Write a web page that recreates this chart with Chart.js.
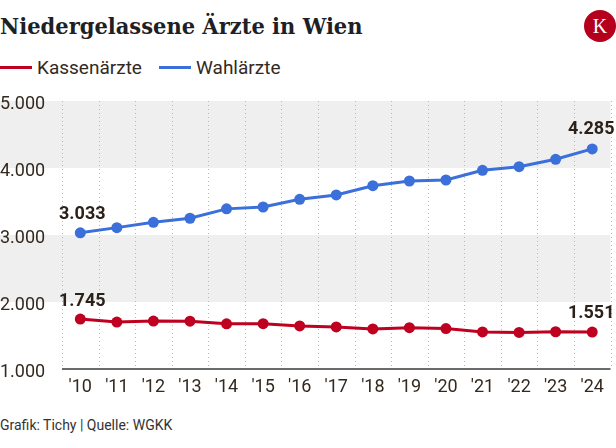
<!DOCTYPE html>
<html>
<head>
<meta charset="utf-8">
<script src="https://cdn.jsdelivr.net/npm/chart.js@4"></script>
<style>
  body { margin: 0; width: 616px; height: 448px; background: #fff; position: relative; overflow: hidden; font-family: Roboto, sans-serif; }
  #title { position: absolute; left: 0; top: 15px; font: bold 22px/22px "DejaVu Serif", serif; color: #1d2125; white-space: nowrap; transform-origin: 0 0; }
  #logo { position: absolute; left: 584px; top: 10px; width: 32px; height: 32px; border-radius: 50%; background: #b4001c; color: #fff; font: 20px/32px "Liberation Serif", serif; text-align: center; }
  .leg { position: absolute; top: 57px; height: 22px; font-size: 19px; line-height: 22px; color: #33291f; white-space: nowrap; }
  .leg i { display: inline-block; width: 32px; height: 3px; vertical-align: middle; margin-right: 5px; position: relative; top: -1px; }
  #wrap { position: absolute; left: 0; top: 85px; width: 616px; height: 320px; }
  #footer { position: absolute; left: 0; top: 417px; font-size: 14px; color: #333; white-space: nowrap; }
</style>
</head>
<body>
<div id="title">Niedergelassene Ärzte in Wien</div>
<div id="logo">K</div>
<div class="leg" style="left:0"><i style="background:#bf0020"></i>Kassenärzte</div>
<div class="leg" style="left:159px"><i style="background:#3b6fd9"></i>Wahlärzte</div>
<div id="wrap"><canvas id="chart" width="616" height="320"></canvas></div>
<div id="footer">Grafik: Tichy | Quelle: WGKK</div>
<script>
// data
const years = ["'10", "'11", "'12", "'13", "'14", "'15", "'16", "'17", "'18", "'19", "'20", "'21", "'22", "'23", "'24"];
const kassenaerzte = [1745, 1700, 1716, 1714, 1674, 1676, 1643, 1628, 1598, 1617, 1603, 1553, 1546, 1556, 1551];
const wahlaerzte = [3033, 3110, 3190, 3250, 3390, 3418, 3532, 3598, 3736, 3806, 3821, 3966, 4020, 4130, 4285];
const yTicks = [1000, 2000, 3000, 4000, 5000];
const bands = [[4000, 5000], [2000, 3000]];

const red = '#bf0020';
const blue = '#3b6fd9';

// stretch the title to the reference width
const title = document.getElementById('title');
title.style.transform = 'scaleX(' + (363 / title.offsetWidth) + ')';

function fmt(v) {
    return String(v).replace(/\B(?=(\d{3})+(?!\d))/g, '.');
}

// grey bands, dotted verticals and the base line, drawn under the axes
const backdrop = {
    id: 'backdrop',
    beforeDraw(chart) {
        const { ctx, chartArea, scales } = chart;
        const x = scales.x, y = scales.y;
        ctx.save();
        ctx.fillStyle = '#efefef';
        bands.forEach(b => {
            const top = y.getPixelForValue(b[1]);
            const bot = y.getPixelForValue(b[0]);
            ctx.fillRect(0, top, chartArea.right, bot - top);
        });
        const step = x.getPixelForValue(1) - x.getPixelForValue(0);
        ctx.strokeStyle = '#b8b8b8';
        ctx.lineWidth = 1;
        ctx.setLineDash([1, 3]);
        for (let i = 0; i <= years.length; i++) {
            const px = Math.round(x.getPixelForValue(i) - step / 2) + 0.5;
            ctx.beginPath();
            ctx.moveTo(px, chartArea.top);
            ctx.lineTo(px, chartArea.bottom);
            ctx.stroke();
        }
        ctx.setLineDash([]);
        ctx.strokeStyle = '#3a3a3a';
        ctx.lineWidth = 1.5;
        ctx.beginPath();
        ctx.moveTo(chartArea.left, chartArea.bottom);
        ctx.lineTo(chartArea.right, chartArea.bottom);
        ctx.stroke();
        ctx.restore();
    }
};

// value labels on first and last point
const endLabels = {
    id: 'endLabels',
    afterDatasetsDraw(chart) {
        const ctx = chart.ctx;
        ctx.save();
        ctx.font = 'bold 18px Roboto';
        ctx.fillStyle = '#2b2118';
        ctx.textAlign = 'center';
        ctx.textBaseline = 'middle';
        chart.data.datasets.forEach((ds, i) => {
            const pts = chart.getDatasetMeta(i).data;
            const last = pts.length - 1;
            ctx.fillText(fmt(ds.data[0]), pts[0].x + 2, pts[0].y - 18);
            ctx.fillText(fmt(ds.data[last]), pts[last].x - 1, pts[last].y - 19);
        });
        ctx.restore();
    }
};

new Chart(document.getElementById('chart'), {
    type: 'line',
    data: {
        labels: years,
        datasets: [{
            label: 'Kassenärzte',
            data: kassenaerzte,
            borderColor: red,
            backgroundColor: red,
            pointBackgroundColor: red,
            borderWidth: 3,
            pointRadius: 5.5,
            pointBorderWidth: 0,
        }, {
            label: 'Wahlärzte',
            data: wahlaerzte,
            borderColor: blue,
            backgroundColor: blue,
            pointBackgroundColor: blue,
            borderWidth: 3,
            pointRadius: 5.5,
            pointBorderWidth: 0,
        }]
    },
    options: {
        responsive: false,
        animation: false,
        layout: { padding: { top: 16, right: 3, left: 0, bottom: 0 } },
        plugins: { legend: { display: false }, tooltip: { enabled: false } },
        scales: {
            x: {
                offset: true,
                grid: { display: false, drawTicks: false },
                border: { display: false },
                ticks: { color: '#33291f', font: { family: 'Roboto', size: 18 }, padding: 8, maxRotation: 0, autoSkip: false },
                afterFit(scale) { scale.height = 36; }
            },
            y: {
                min: 1000,
                max: 5000,
                afterBuildTicks(scale) { scale.ticks = yTicks.map(v => ({ value: v })); },
                grid: { display: false, drawTicks: false },
                border: { display: false },
                ticks: {
                    color: '#33291f',
                    font: { family: 'Roboto', size: 18 },
                    crossAlign: 'far',
                    padding: 0,
                    labelOffset: 3,
                    callback: v => fmt(v)
                },
                afterFit(scale) { scale.width = 62; }
            }
        }
    },
    plugins: [backdrop, endLabels]
});
</script>
</body>
</html>
